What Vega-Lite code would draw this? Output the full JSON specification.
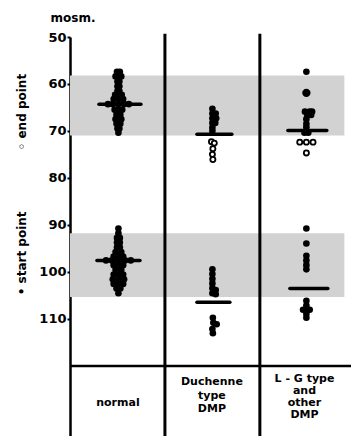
{
  "$schema": "https://vega.github.io/schema/vega-lite/v6.json",
  "autosize": "none",
  "padding": {"left": 70, "top": 37, "right": 0, "bottom": 0},
  "width": 281,
  "height": 399,
  "background": "white",
  "config": {"view": {"stroke": null}},
  "datasets": {
    "bands": [
      {"x": 0, "x2": 2.89, "v": 58.2, "v2": 71.0},
      {"x": 0, "x2": 2.89, "v": 91.8, "v2": 105.4}
    ],
    "dividers": [
      {"x": 1, "v": 49.3, "v2": 135},
      {"x": 2, "v": 49.3, "v2": 135}
    ],
    "hline": [{"x": 0, "x2": 2.96, "v": 120.1}],
    "means": [
      {"x": 0.305, "x2": 0.747, "v": 64.3},
      {"x": 0.284, "x2": 0.737, "v": 97.6},
      {"x": 1.337, "x2": 1.705, "v": 70.7},
      {"x": 1.337, "x2": 1.684, "v": 106.5},
      {"x": 2.295, "x2": 2.705, "v": 69.9},
      {"x": 2.316, "x2": 2.716, "v": 103.6}
    ],
    "filled": [
      {"x": 0.495, "v": 57.4}, {"x": 0.525, "v": 57.4},
      {"x": 0.48, "v": 58.4}, {"x": 0.51, "v": 58.4}, {"x": 0.54, "v": 58.4},
      {"x": 0.5, "v": 59.5}, {"x": 0.52, "v": 59.5},
      {"x": 0.5, "v": 60.5}, {"x": 0.52, "v": 60.5},
      {"x": 0.5, "v": 61.5}, {"x": 0.52, "v": 61.5},
      {"x": 0.475, "v": 62.3}, {"x": 0.51, "v": 62.3}, {"x": 0.545, "v": 62.3},
      {"x": 0.46, "v": 63.2}, {"x": 0.51, "v": 63.2}, {"x": 0.56, "v": 63.2},
      {"x": 0.40, "v": 64.3}, {"x": 0.45, "v": 64.3}, {"x": 0.51, "v": 64.3}, {"x": 0.57, "v": 64.3}, {"x": 0.62, "v": 64.3},
      {"x": 0.47, "v": 65.5}, {"x": 0.51, "v": 65.5}, {"x": 0.55, "v": 65.5},
      {"x": 0.49, "v": 66.5}, {"x": 0.53, "v": 66.5},
      {"x": 0.48, "v": 67.5}, {"x": 0.54, "v": 67.5},
      {"x": 0.49, "v": 68.5}, {"x": 0.53, "v": 68.5},
      {"x": 0.5, "v": 69.5}, {"x": 0.52, "v": 69.5},
      {"x": 0.51, "v": 70.4},

      {"x": 0.51, "v": 90.8},
      {"x": 0.51, "v": 91.8},
      {"x": 0.495, "v": 92.8}, {"x": 0.525, "v": 92.8},
      {"x": 0.495, "v": 93.8}, {"x": 0.525, "v": 93.8},
      {"x": 0.495, "v": 94.8}, {"x": 0.525, "v": 94.8},
      {"x": 0.48, "v": 95.8}, {"x": 0.54, "v": 95.8},
      {"x": 0.46, "v": 96.8}, {"x": 0.51, "v": 96.8}, {"x": 0.56, "v": 96.8},
      {"x": 0.38, "v": 97.6}, {"x": 0.44, "v": 97.6}, {"x": 0.51, "v": 97.6}, {"x": 0.58, "v": 97.6}, {"x": 0.64, "v": 97.6},
      {"x": 0.46, "v": 98.6}, {"x": 0.51, "v": 98.6}, {"x": 0.56, "v": 98.6},
      {"x": 0.48, "v": 99.6}, {"x": 0.54, "v": 99.6},
      {"x": 0.46, "v": 100.6}, {"x": 0.51, "v": 100.6}, {"x": 0.56, "v": 100.6},
      {"x": 0.45, "v": 101.6}, {"x": 0.51, "v": 101.6}, {"x": 0.57, "v": 101.6},
      {"x": 0.46, "v": 102.6}, {"x": 0.51, "v": 102.6}, {"x": 0.56, "v": 102.6},
      {"x": 0.49, "v": 103.6}, {"x": 0.53, "v": 103.6},
      {"x": 0.51, "v": 104.6},

      {"x": 1.5, "v": 65.3},
      {"x": 1.5, "v": 66.3}, {"x": 1.535, "v": 66.3},
      {"x": 1.5, "v": 67.3}, {"x": 1.54, "v": 67.3},
      {"x": 1.5, "v": 68.3}, {"x": 1.53, "v": 68.3},
      {"x": 1.5, "v": 69.3},
      {"x": 1.5, "v": 70.0},

      {"x": 1.5, "v": 99.5}, {"x": 1.5, "v": 100.5}, {"x": 1.5, "v": 101.5},
      {"x": 1.5, "v": 102.5}, {"x": 1.5, "v": 103.5}, {"x": 1.5, "v": 104.6},
      {"x": 1.535, "v": 103.9}, {"x": 1.535, "v": 104.8},
      {"x": 1.505, "v": 109.8}, {"x": 1.51, "v": 110.9}, {"x": 1.545, "v": 111.2},
      {"x": 1.5, "v": 112.2}, {"x": 1.505, "v": 113.1},

      {"x": 2.49, "v": 57.4},
      {"x": 2.475, "v": 65.9}, {"x": 2.525, "v": 65.9}, {"x": 2.55, "v": 65.9},
      {"x": 2.5, "v": 66.6}, {"x": 2.54, "v": 66.6},
      {"x": 2.49, "v": 67.5}, {"x": 2.49, "v": 68.5}, {"x": 2.49, "v": 69.2},
      {"x": 2.47, "v": 70.4}, {"x": 2.51, "v": 70.4},

      {"x": 2.49, "v": 90.8}, {"x": 2.49, "v": 94.0},
      {"x": 2.49, "v": 96.6}, {"x": 2.49, "v": 97.6}, {"x": 2.49, "v": 98.6}, {"x": 2.49, "v": 99.5},
      {"x": 2.49, "v": 106.2}, {"x": 2.49, "v": 107.2},
      {"x": 2.455, "v": 108.1}, {"x": 2.49, "v": 108.1}, {"x": 2.525, "v": 108.1},
      {"x": 2.49, "v": 109.0}, {"x": 2.49, "v": 109.8}
    ],
    "big": [{"x": 2.49, "v": 61.9}],
    "open": [
      {"x": 1.49, "v": 72.3}, {"x": 1.52, "v": 72.6}, {"x": 1.505, "v": 73.8},
      {"x": 1.5, "v": 75.0}, {"x": 1.505, "v": 76.1},
      {"x": 2.42, "v": 72.4}, {"x": 2.49, "v": 72.4}, {"x": 2.56, "v": 72.4},
      {"x": 2.49, "v": 74.7}
    ],
    "sidelabels": [
      {"x": -0.505, "v": 66.0, "t": "◦ end point"},
      {"x": -0.505, "v": 96.1, "t": "• start point"}
    ],
    "groupA": [
      {"x": 0.505, "v": 128.0, "t": "normal"},
      {"x": 1.495, "v": 123.6, "t": "Duchenne\ntype\nDMP"}
    ],
    "groupB": [
      {"x": 2.47, "v": 122.8, "t": "L - G type\nand\nother\nDMP"}
    ]
  },
  "layer": [
    {
      "data": {"name": "bands"},
      "mark": {"type": "rect", "fill": "#d2d2d2"},
      "encoding": {
        "x": {"field": "x", "type": "quantitative", "scale": {"domain": [0, 2.96], "nice": false, "zero": false}, "axis": null},
        "x2": {"field": "x2"},
        "y": {"field": "v", "type": "quantitative",
              "scale": {"domain": [50, 135], "reverse": true, "nice": false, "zero": false},
              "axis": {"values": [50, 60, 70, 80, 90, 100, 110], "grid": false,
                       "domain": true, "domainColor": "black", "domainWidth": 2.5,
                       "ticks": true, "tickColor": "black", "tickSize": 3, "tickWidth": 2,
                       "labelFont": "DejaVu Sans", "labelFontSize": 13, "labelFontWeight": "bold",
                       "labelColor": "black", "labelPadding": 1,
                       "title": "mosm.", "titleAngle": 0, "titleAlign": "left", "titleBaseline": "alphabetic",
                       "titleX": -20, "titleY": -16, "titleFont": "DejaVu Sans", "titleFontSize": 12,
                       "titleFontWeight": "bold", "titleColor": "black"}},
        "y2": {"field": "v2"}
      }
    },
    {
      "data": {"name": "dividers"},
      "mark": {"type": "rule", "stroke": "black", "strokeWidth": 3},
      "encoding": {
        "x": {"field": "x", "type": "quantitative"},
        "y": {"field": "v", "type": "quantitative"},
        "y2": {"field": "v2"}
      }
    },
    {
      "data": {"name": "hline"},
      "mark": {"type": "rule", "stroke": "black", "strokeWidth": 2.5},
      "encoding": {
        "x": {"field": "x", "type": "quantitative"},
        "x2": {"field": "x2"},
        "y": {"field": "v", "type": "quantitative"}
      }
    },
    {
      "data": {"name": "means"},
      "mark": {"type": "rule", "stroke": "black", "strokeWidth": 3.5, "strokeCap": "round"},
      "encoding": {
        "x": {"field": "x", "type": "quantitative"},
        "x2": {"field": "x2"},
        "y": {"field": "v", "type": "quantitative"}
      }
    },
    {
      "data": {"name": "filled"},
      "mark": {"type": "point", "shape": "circle", "filled": true, "color": "black", "opacity": 1, "size": 44},
      "encoding": {
        "x": {"field": "x", "type": "quantitative"},
        "y": {"field": "v", "type": "quantitative"}
      }
    },
    {
      "data": {"name": "big"},
      "mark": {"type": "point", "shape": "circle", "filled": true, "color": "black", "opacity": 1, "size": 70},
      "encoding": {
        "x": {"field": "x", "type": "quantitative"},
        "y": {"field": "v", "type": "quantitative"}
      }
    },
    {
      "data": {"name": "open"},
      "mark": {"type": "point", "shape": "circle", "fill": "white", "fillOpacity": 1, "stroke": "black", "strokeWidth": 1.8, "opacity": 1, "size": 26},
      "encoding": {
        "x": {"field": "x", "type": "quantitative"},
        "y": {"field": "v", "type": "quantitative"}
      }
    },
    {
      "data": {"name": "sidelabels"},
      "mark": {"type": "text", "angle": 270, "font": "DejaVu Sans", "fontSize": 12, "fontWeight": "bold", "color": "black", "align": "center", "baseline": "middle"},
      "encoding": {
        "x": {"field": "x", "type": "quantitative"},
        "y": {"field": "v", "type": "quantitative"},
        "text": {"field": "t"}
      }
    },
    {
      "data": {"name": "groupA"},
      "mark": {"type": "text", "font": "DejaVu Sans", "fontSize": 11, "fontWeight": "bold", "color": "black", "align": "center", "baseline": "middle", "lineBreak": "\n", "lineHeight": 13.5},
      "encoding": {
        "x": {"field": "x", "type": "quantitative"},
        "y": {"field": "v", "type": "quantitative"},
        "text": {"field": "t"}
      }
    },
    {
      "data": {"name": "groupB"},
      "mark": {"type": "text", "font": "DejaVu Sans", "fontSize": 11, "fontWeight": "bold", "color": "black", "align": "center", "baseline": "middle", "lineBreak": "\n", "lineHeight": 12},
      "encoding": {
        "x": {"field": "x", "type": "quantitative"},
        "y": {"field": "v", "type": "quantitative"},
        "text": {"field": "t"}
      }
    }
  ]
}
